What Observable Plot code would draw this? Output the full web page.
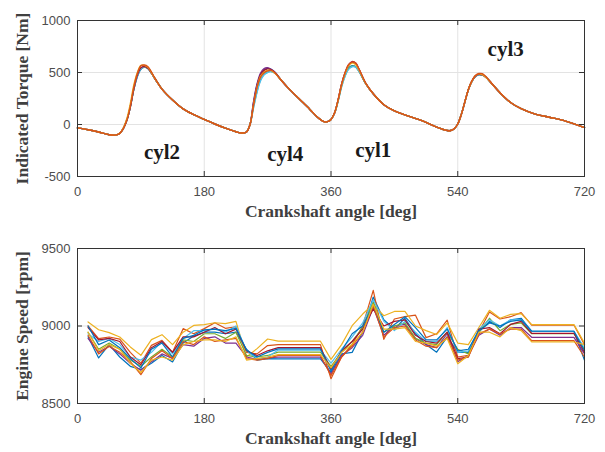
<!DOCTYPE html>
<html>
<head>
<meta charset="utf-8">
<script src="https://cdn.jsdelivr.net/npm/d3@7"></script>
<script src="https://cdn.jsdelivr.net/npm/@observablehq/plot@0.6"></script>
<style>
  html, body { margin: 0; padding: 0; background: #ffffff; }
  #chart { width: 605px; height: 452px; overflow: hidden; }
  #chart svg { display: block; }
</style>
</head>
<body>
<div id="chart"></div>
<script>
// ---------- data ----------
const xTicks = [0, 180, 360, 540, 720];
const torqueTicks = [-500, 0, 500, 1000];
const speedTicks = [8500, 9000, 9500];
const lineColors = ["#0072BD", "#D95319", "#EDB120", "#7E2F8E", "#77AC30", "#4DBEEE", "#A2142F"];

const cylLabels = ["cyl2", "cyl4", "cyl1", "cyl3"];
const cylLabelAngle = [120, 295, 420, 608];
const cylLabelTorque = [-265, -285, -250, 725];

const torqueAngle = [0,15,30,45,55,60,65,70,75,80, 85,90,95,100,110,120,135,150,165,180,
  195,210,225,233,240,245,250,255,260,265, 270,275,280,290,300,315,330,340,350,355,
  360,365,370,375,380,385,390,395,400,410, 420,435,450,470,490,510,525,530,535,540,
  545,550,555,560,565,570,575,580,590,600, 615,630,650,670,690,720];

const torqueRun1 = [-32,-50,-72,-98,-100,-85,-40,40,170,340, 460,530,552,540,440,340,235,150,95,50,
  5,-35,-70,-82,-72,0,210,380,480,525, 540,530,505,420,345,245,145,75,28,28,
  48,110,230,380,490,545,565,555,508,385, 295,190,130,80,35,-25,-58,-58,-40,5,
  95,215,335,415,460,478,475,455,380,305, 212,152,100,70,40,-30];
const torqueRun2 = [-32,-50,-72,-98,-100,-85,-40,40,175,360, 490,565,572,555,445,340,235,150,95,50,
  5,-35,-70,-82,-72,0,190,360,455,498, 515,520,500,420,345,245,145,75,28,28,
  48,110,235,385,500,575,600,590,530,390, 295,190,130,80,35,-25,-58,-58,-40,5,
  95,215,335,420,470,490,488,462,382,305, 212,152,100,70,40,-30];
const torqueRun3 = [-32,-50,-72,-98,-100,-85,-35,55,200,380, 500,568,568,550,440,340,235,150,95,50,
  5,-35,-70,-82,-72,0,190,360,465,505, 520,518,495,420,345,245,145,75,28,28,
  48,110,230,380,490,565,590,575,520,385, 295,190,130,80,35,-25,-58,-58,-40,5,
  95,215,335,415,468,487,480,455,380,305, 212,152,100,70,40,-30];
const torqueRun4 = [-32,-50,-72,-98,-100,-85,-40,40,170,340, 470,540,552,540,440,340,235,150,95,50,
  5,-35,-70,-82,-72,0,220,390,495,538, 545,530,505,420,345,245,145,75,28,28,
  48,110,232,385,495,570,600,585,525,385, 295,190,130,80,35,-25,-58,-58,-40,5,
  95,215,335,415,465,483,478,455,380,305, 212,152,100,70,40,-30];
const torqueRun5 = [-32,-50,-72,-98,-100,-85,-40,40,170,340, 470,538,550,540,440,340,235,150,95,50,
  5,-35,-70,-82,-72,0,170,320,430,482, 505,510,495,420,345,245,145,75,28,28,
  48,108,222,365,470,535,560,555,510,385, 295,190,130,80,35,-25,-58,-58,-40,5,
  95,215,335,415,465,480,478,455,380,305, 212,152,100,70,40,-30];
const torqueRun6 = [-32,-50,-72,-98,-100,-85,-40,40,170,340, 465,535,552,540,440,340,235,150,95,50,
  5,-35,-70,-82,-72,0,160,310,420,478, 500,510,495,420,345,245,145,75,28,28,
  48,105,220,360,465,530,555,552,508,385, 295,190,130,80,35,-25,-58,-58,-40,5,
  95,212,330,412,462,478,476,455,380,305, 212,152,100,70,40,-30];
const torqueRun7 = [-32,-50,-72,-98,-100,-85,-40,40,170,345, 475,545,558,542,440,340,235,150,95,50,
  5,-35,-70,-82,-72,0,195,370,478,520, 535,525,500,420,345,245,145,75,28,28,
  48,110,232,385,495,575,605,590,528,388, 295,190,130,80,35,-25,-58,-58,-40,5,
  95,215,335,415,465,483,478,455,380,305, 212,152,100,70,40,-30];

const speedAngle = [15,30,45,60,75,90,105,120,135,150, 165,180,195,210,225,240,255,270,285,300,
  315,330,345,360,375,390,405,420,435,450, 465,480,495,510,525,540,555,570,585,600,
  615,630,645,660,675,690,705,720];

const speedRun1 = [8930,8794,8880,8800,8740,8720,8760,8810,8768,8890, 8935,8960,8960,8950,8960,8850,8780,8790,8788,8788,
  8788,8788,8788,8700,8820,8830,8960,9187,9040,8980, 9050,8950,8880,8831,8930,8830,8830,8960,9030,8990,
  9040,9050,8966,8966,8966,8966,8966,8779];
const speedRun2 = [9000,8918,8929,8915,8830,8760,8875,8907,8830,8983, 8950,8983,9021,8985,8995,8830,8820,8874,8880,8880,
  8880,8880,8880,8660,8800,8880,9000,9230,8914,9045, 9060,9070,8925,8950,9038,8800,8810,8960,9090,9045,
  9060,9086,9006,9006,9006,9006,9006,8880];
const speedRun3 = [9026,8976,8957,8929,8865,8811,8912,8944,8880,8960, 9004,9009,9021,9015,9030,8800,8854,8916,8902,8902,
  8902,8902,8902,8785,8880,9002,9077,9140,9066,9094, 9094,9000,8970,8945,9020,8890,8880,8990,9101,9050,
  9075,9080,9009,9009,9009,9009,9009,8890];
const speedRun4 = [8920,8830,8870,8820,8760,8714,8770,8820,8790,8880, 8870,8920,8930,8890,8890,8800,8785,8795,8799,8799,
  8799,8799,8799,8690,8810,8860,8940,9120,8940,9000, 9010,8920,8880,8860,8950,8770,8810,8940,8980,8940,
  8990,8990,8927,8927,8927,8927,8927,8820];
const speedRun5 = [8960,8850,8890,8850,8780,8740,8800,8850,8800,8910, 8900,8950,8950,8920,8960,8810,8800,8810,8831,8831,
  8831,8831,8831,8740,8830,8900,8990,9160,8960,9000, 9020,8920,8890,8880,8960,8850,8820,8960,9050,8970,
  9010,9020,8950,8950,8950,8950,8950,8850];
const speedRun6 = [8950,8900,8920,8880,8800,8780,8830,8900,8820,8920, 8970,8970,8980,8960,9000,8840,8790,8800,8845,8845,
  8845,8845,8845,8760,8850,8930,9020,9170,9030,8970, 9030,8960,8900,8900,8990,8830,8840,8980,9040,9000,
  9040,9040,8966,8966,8966,8966,8966,8860];
const speedRun7 = [8990,8910,8920,8900,8800,8750,8860,8900,8830,8930, 8930,8960,8990,8950,8980,8840,8810,8840,8860,8860,
  8860,8860,8860,8720,8840,8900,8980,9110,9000,9030, 9040,8940,8900,8890,8960,8790,8800,8980,8990,8950,
  9010,9030,8953,8953,8953,8953,8953,8830];
const speedRun8 = [9000,8880,8910,8860,8790,8730,8850,8890,8800,8920, 8940,8975,8980,8970,8985,8845,8800,8830,8852,8852,
  8852,8852,8852,8710,8840,8950,9000,9130,8960,9010, 9060,8990,8910,8910,8980,8840,8850,8970,9020,9000,
  9030,9040,8966,8966,8966,8966,8966,8840];
const speedRun9 = [8940,8820,8870,8830,8770,8686,8790,8840,8790,8900, 8880,8930,8900,8910,8920,8790,8780,8790,8810,8810,
  8810,8810,8810,8680,8800,8870,8960,9130,8930,8990, 9000,8910,8870,8860,8930,8780,8800,8950,8980,8950,
  8980,8980,8906,8906,8906,8906,8906,8800];
const speedRun10 = [8960,8840,8880,8850,8760,8700,8780,8800,8780,8880, 8900,8910,8910,8900,8930,8780,8790,8800,8815,8815,
  8815,8815,8815,8730,8830,8880,8960,9140,8980,8980, 8990,8900,8890,8870,8920,8756,8810,8960,8960,8930,
  8990,8970,8897,8897,8897,8897,8897,8880];

// ---------- helpers ----------
const torqueRuns = [torqueRun1, torqueRun2, torqueRun3, torqueRun4, torqueRun5, torqueRun6, torqueRun7];
const torqueDrawOrder = [0, 3, 4, 5, 6, 2, 1];
const speedRuns = [speedRun1, speedRun2, speedRun3, speedRun4, speedRun5, speedRun6, speedRun7, speedRun8, speedRun9, speedRun10];

const W = 605, H1 = 226, H2 = 226;
const ML = 77, MR = 21;
const tickFont = "'Liberation Sans', Arial, sans-serif";
const titleFont = "'Liberation Serif', 'Times New Roman', serif";
const tickColor = "#4d4d4d";
const titleColor = "#404040";
const frameColor = "#333333";
const gridColor = "#e3e3e3";

function panel({height, mt, mb, yDomain, yTicks, yLabel, marks}) {
  const innerH = height - mt - mb;
  const innerW = W - ML - MR;
  const T = 5;
  return Plot.plot({
    width: W, height,
    marginLeft: ML, marginRight: MR, marginTop: mt, marginBottom: mb,
    style: {background: "#ffffff", overflow: "visible"},
    x: {domain: [0, 720]},
    y: {domain: yDomain},
    marks: [
      Plot.gridX(xTicks, {stroke: gridColor, strokeOpacity: 1, strokeWidth: 1}),
      Plot.gridY(yTicks, {stroke: gridColor, strokeOpacity: 1, strokeWidth: 1}),
      ...marks,
      Plot.ruleX(xTicks, {x: d => d, insetTop: innerH - T, stroke: frameColor}),
      Plot.ruleX(xTicks, {x: d => d, insetBottom: innerH - T, stroke: frameColor}),
      Plot.ruleY(yTicks, {y: d => d, insetRight: innerW - T, stroke: frameColor}),
      Plot.ruleY(yTicks, {y: d => d, insetLeft: innerW - T, stroke: frameColor}),
      Plot.frame({stroke: frameColor, strokeWidth: 1}),
      Plot.axisX(xTicks, {tickSize: 0, tickPadding: 10, label: null, fontSize: 13,
        fontFamily: tickFont, fill: tickColor}),
      Plot.axisY(yTicks, {tickSize: 0, tickPadding: 7, label: null, fontSize: 13,
        fontFamily: tickFont, fill: tickColor, tickFormat: d => String(d)}),
      Plot.text(["Crankshaft angle [deg]"], {frameAnchor: "bottom", dy: 40, text: d => d,
        textAnchor: "middle",
        fontFamily: titleFont, fontWeight: "bold", fontSize: 17.5, fill: titleColor}),
      Plot.text([yLabel], {frameAnchor: "left", dx: -55, rotate: -90, text: d => d,
        textAnchor: "middle",
        fontFamily: titleFont, fontWeight: "bold", fontSize: 17.5, fill: titleColor})
    ]
  });
}

const torqueMarks = torqueDrawOrder.map(i =>
  Plot.line(torqueAngle.map((a, j) => ({angle: a, torque: torqueRuns[i][j]})),
    {x: "angle", y: "torque", stroke: lineColors[i], strokeWidth: 1.4, curve: "catmull-rom"})
);
torqueMarks.push(
  Plot.text(cylLabels.map((t, i) => ({label: t, angle: cylLabelAngle[i], torque: cylLabelTorque[i]})),
    {x: "angle", y: "torque", text: "label", fontFamily: titleFont, fontWeight: "bold",
     fontSize: 21, fill: "#1a1a1a"})
);

const speedMarks = speedRuns.map((run, i) =>
  Plot.line(speedAngle.map((a, j) => ({angle: a, rpm: run[j]})),
    {x: "angle", y: "rpm", stroke: lineColors[i % lineColors.length], strokeWidth: 1.2})
);

const torquePanel = panel({height: H1, mt: 20, mb: 50, yDomain: [-500, 1000], yTicks: torqueTicks,
  yLabel: "Indicated Torque [Nm]", marks: torqueMarks});
const speedPanel = panel({height: H2, mt: 22, mb: 49, yDomain: [8500, 9500], yTicks: speedTicks,
  yLabel: "Engine Speed [rpm]", marks: speedMarks});

const chartDiv = document.getElementById("chart");
chartDiv.appendChild(torquePanel);
chartDiv.appendChild(speedPanel);
</script>
</body>
</html>
